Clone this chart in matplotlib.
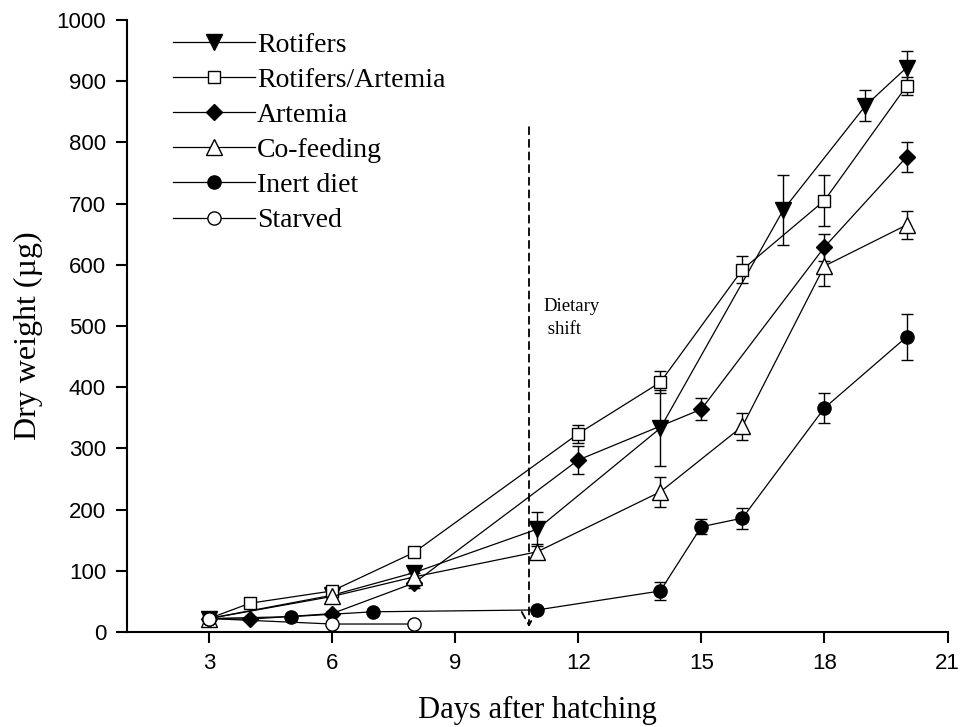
import matplotlib.pyplot as plt

# Dry weight (ug) per feeding regime, mean and SD
rot_days = [3, 6, 8, 11, 14, 17, 19, 20]
rot_mean = [22, 60, 97, 168, 333, 690, 860, 922]
rot_sd = [4, 5, 8, 28, 62, 57, 25, 27]

ra_days = [3, 4, 6, 8, 12, 14, 16, 18, 20]
ra_mean = [22, 47, 67, 130, 324, 408, 592, 705, 892]
ra_sd = [4, 5, 6, 8, 15, 18, 22, 42, 15]

art_days = [3, 4, 6, 8, 12, 15, 18, 20]
art_mean = [22, 21, 30, 80, 281, 364, 629, 776]
art_sd = [4, 3, 4, 8, 23, 18, 22, 25]

cof_days = [3, 6, 8, 11, 14, 16, 18, 20]
cof_mean = [22, 58, 90, 131, 229, 336, 598, 665]
cof_sd = [4, 5, 6, 12, 25, 22, 33, 23]

inert_days = [3, 5, 7, 11, 14, 15, 16, 18, 20]
inert_mean = [22, 25, 33, 36, 67, 172, 186, 366, 482]
inert_sd = [3, 3, 3, 4, 14, 12, 17, 25, 37]

starv_days = [3, 6, 8]
starv_mean = [22, 13, 13]
starv_sd = [3, 3, 2]

shift_day = 10.8
shift_top = 825

# name, x, mean, sd, marker, face colour, marker size
series = [
    ("Rotifers", rot_days, rot_mean, rot_sd, "v", "black", 11.5),
    ("Rotifers/Artemia", ra_days, ra_mean, ra_sd, "s", "white", 8.5),
    ("Artemia", art_days, art_mean, art_sd, "D", "black", 8.2),
    ("Co-feeding", cof_days, cof_mean, cof_sd, "^", "white", 11),
    ("Inert diet", inert_days, inert_mean, inert_sd, "o", "black", 9.5),
    ("Starved", starv_days, starv_mean, starv_sd, "o", "white", 9.5),
]

serif = ["Liberation Serif", "DejaVu Serif"]
sans = ["Liberation Sans", "DejaVu Sans"]

fig = plt.figure(figsize=(9.61, 7.27), dpi=100)
ax = fig.add_axes([0.132, 0.1307, 0.854, 0.8418])

handles = []
for name, days, mean, sd, marker, face, ms in series:
    ax.errorbar(days, mean, yerr=sd, fmt="none", ecolor="black",
                elinewidth=1.0, capsize=4.5, capthick=1.0, zorder=2)
    line, = ax.plot(days, mean, color="black", lw=0.9, marker=marker,
                    markersize=ms, markerfacecolor=face,
                    markeredgecolor="black", markeredgewidth=1.0,
                    label=name, zorder=3)
    handles.append(line)

# dietary shift marker
ax.annotate("", xy=(shift_day, 8), xytext=(shift_day, shift_top),
            arrowprops=dict(arrowstyle="->,head_length=0.55,head_width=0.3",
                            mutation_scale=20, linestyle=(0, (4, 3)),
                            lw=1.3, color="black", shrinkA=0, shrinkB=0),
            zorder=1)
ax.text(11.15, 545, "Dietary\n shift", fontsize=13.5, family=serif,
        ha="left", va="top", linespacing=1.45)

ax.set_xlim(1, 21)
ax.set_ylim(0, 1000)
ax.set_xticks([3, 6, 9, 12, 15, 18, 21])
ax.set_yticks(range(0, 1001, 100))
for side in ("top", "right"):
    ax.spines[side].set_visible(False)
for side in ("left", "bottom"):
    ax.spines[side].set_linewidth(1.5)
ax.tick_params(direction="out", length=8, width=1.5, labelsize=16)
ax.tick_params(axis="y", pad=7)
ax.tick_params(axis="x", pad=7)
for lbl in ax.get_xticklabels() + ax.get_yticklabels():
    lbl.set_family(sans)

ax.set_xlabel("Days after hatching", fontsize=22, family=serif, labelpad=16)
ax.set_ylabel("Dry weight (µg)", fontsize=23, family=serif)
ax.yaxis.set_label_coords(-0.102, 0.484)

leg = ax.legend(handles=handles, loc="upper left", frameon=False,
                bbox_to_anchor=(0.033, 1.012), handlelength=2.95,
                handletextpad=0.05, labelspacing=0.35, borderpad=0.2,
                prop={"family": serif, "size": 20})

fig.savefig("out.png", dpi=100)
